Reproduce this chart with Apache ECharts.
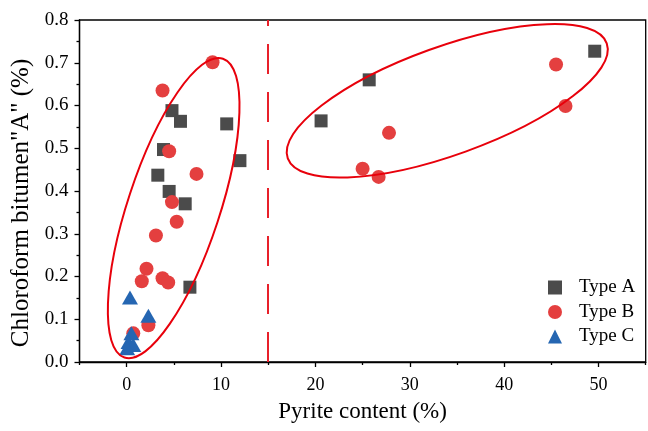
<!DOCTYPE html>
<html>
<head>
<meta charset="utf-8">
<script src="https://cdn.jsdelivr.net/npm/echarts@6/dist/echarts.min.js"></script>
<style>
html,body{margin:0;padding:0;background:#fff;}
#chart{width:648px;height:431px;}
</style>
</head>
<body>
<div id="chart"></div>
<script>
// ---- data ----
const typeA_x = [3.3, 3.9, 4.5, 4.8, 5.7, 6.2, 6.7, 10.6, 12.0, 20.6, 25.7, 49.6];
const typeA_y = [0.437, 0.497, 0.399, 0.588, 0.563, 0.370, 0.175, 0.557, 0.471, 0.564, 0.660, 0.727];

const typeB_x = [9.1, 3.8, 4.5, 7.4, 4.8, 5.3, 3.1, 2.1, 1.6, 3.8, 4.4, 2.3, 0.7, 45.5, 46.5, 27.8, 25.0, 26.7];
const typeB_y = [0.701, 0.635, 0.493, 0.440, 0.374, 0.328, 0.296, 0.218, 0.189, 0.196, 0.186, 0.086, 0.067, 0.696, 0.599, 0.536, 0.452, 0.433];

const typeC_x = [0.35, 2.3, 0.5, 0.2, 0.7, 0.05];
const typeC_y = [0.151, 0.108, 0.067, 0.047, 0.040, 0.032];

const seriesNames = ['Type A', 'Type B', 'Type C'];
const xMajorTicks = [0, 10, 20, 30, 40, 50];
const xMinorTicks = [-5, 5, 15, 25, 35, 45, 55];
const dividerX = 15;

// annotation ellipses (center & tip of major axis in data units)
const ellipseLeft = {center: [4.98, 0.360], tip: [10.2, 0.7095]};
const ellipseRight = {center: [33.97, 0.611], tip: [50.87, 0.7455]};

const FONT = 'Liberation Serif';
const zip = (xs, ys) => xs.map((x, i) => [x, ys[i]]);

const chart = echarts.init(document.getElementById('chart'), null, {renderer: 'canvas'});

const option = {
  animation: false,
  backgroundColor: '#fff',
  grid: {left: 79.5, right: 2.3, top: 20, bottom: 69, show: true, borderColor: '#000', borderWidth: 1.3, backgroundColor: 'transparent'},
  legend: {
    orient: 'vertical', left: 543, top: 273,
    itemWidth: 14, itemHeight: 14, itemGap: 5.5,
    textStyle: {fontFamily: FONT, fontSize: 19, color: '#000', padding: [0, 0, 0, 12]},
    data: seriesNames
  },
  xAxis: [{
    type: 'value', min: -5, max: 55,
    axisLine: {show: true, onZero: false, lineStyle: {color: '#000', width: 1.3}},
    axisTick: {show: true, length: 5, inside: false, customValues: xMajorTicks, lineStyle: {color: '#000', width: 1.3}},
    axisLabel: {customValues: xMajorTicks, fontFamily: FONT, fontSize: 18, color: '#000', margin: 14},
    splitLine: {show: false},
    name: 'Pyrite content (%)', nameLocation: 'middle', nameGap: 38,
    nameTextStyle: {fontFamily: FONT, fontSize: 23, color: '#000'}
  }, {
    type: 'value', min: -5, max: 55, position: 'bottom',
    axisLine: {show: false, onZero: false},
    axisTick: {show: true, length: 3, customValues: xMinorTicks, lineStyle: {color: '#000', width: 1.3}},
    axisLabel: {show: false},
    splitLine: {show: false}
  }],
  yAxis: {
    type: 'value', min: 0, max: 0.8, interval: 0.1,
    axisLine: {show: true, onZero: false, lineStyle: {color: '#000', width: 1.3}},
    axisTick: {show: true, length: 5, lineStyle: {color: '#000', width: 1.3}},
    minorTick: {show: true, splitNumber: 2, length: 3, lineStyle: {color: '#000', width: 1.3}},
    axisLabel: {fontFamily: FONT, fontSize: 19, color: '#000', margin: 11, formatter: v => v.toFixed(1)},
    splitLine: {show: false},
    name: 'Chloroform bitumen"A" (%)', nameLocation: 'middle', nameGap: 39,
    nameTextStyle: {fontFamily: FONT, fontSize: 25, color: '#000', padding: [0, 24, 0, 0]}
  },
  series: [{
    name: seriesNames[0], type: 'scatter', symbol: 'rect', symbolSize: 13,
    itemStyle: {color: '#4b4b4b', opacity: 1},
    data: zip(typeA_x, typeA_y), z: 2,
    markLine: {
      silent: true, symbol: ['none', 'none'], label: {show: false},
      lineStyle: {color: '#e8202a', width: 2, type: [30, 18]},
      data: [{xAxis: dividerX}]
    }
  }, {
    name: seriesNames[1], type: 'scatter', symbol: 'circle', symbolSize: 14,
    itemStyle: {color: '#e43f3f', opacity: 1},
    data: zip(typeB_x, typeB_y), z: 3
  }, {
    name: seriesNames[2], type: 'scatter', symbol: 'triangle', symbolSize: [16, 14],
    itemStyle: {color: '#2566b2', opacity: 1},
    data: zip(typeC_x, typeC_y), z: 4
  }]
};
chart.setOption(option);

function ellipseGraphic(e, halfMinorPx) {
  const c = chart.convertToPixel({gridIndex: 0}, e.center);
  const t = chart.convertToPixel({gridIndex: 0}, e.tip);
  const dx = t[0] - c[0], dy = t[1] - c[1];
  const a = Math.sqrt(dx * dx + dy * dy);
  return {
    type: 'ellipse', x: c[0], y: c[1], rotation: Math.atan2(-dy, dx),
    shape: {cx: 0, cy: 0, rx: a, ry: halfMinorPx},
    style: {fill: 'none', stroke: '#e8000b', lineWidth: 2},
    z: 100, silent: true
  };
}
chart.setOption({graphic: [ellipseGraphic(ellipseLeft, 46), ellipseGraphic(ellipseRight, 54)]});
</script>
</body>
</html>
